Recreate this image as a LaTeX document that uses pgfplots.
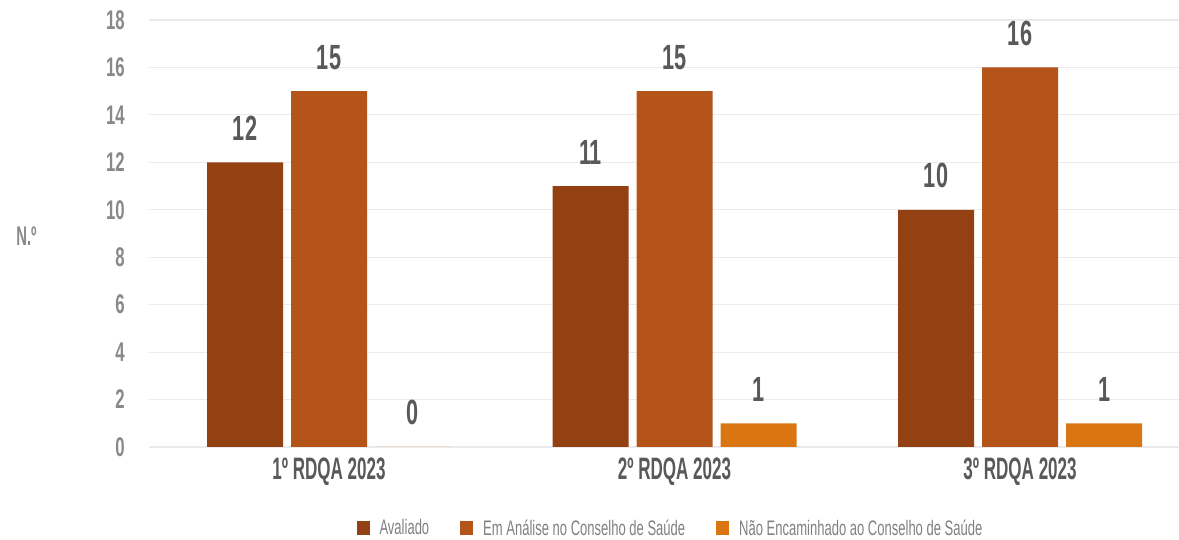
\documentclass[border=0pt]{standalone}
\usepackage{pgfplots}
\pgfplotsset{compat=1.18}
\usepackage{fontspec}
\setmainfont[FakeStretch=0.62]{Liberation Sans}
\newfontfamily\condA[FakeStretch=0.55]{Liberation Sans}
\newfontfamily\condB[FakeStretch=0.62]{Liberation Sans}
\definecolor{c1}{HTML}{934113}
\definecolor{c2}{HTML}{B45418}
\definecolor{c3}{HTML}{D97612}
\definecolor{gridc}{HTML}{EBEBEB}
\definecolor{tickc}{HTML}{898989}
\definecolor{labc}{HTML}{595959}
\definecolor{legc}{HTML}{808080}
\begin{document}
\begin{tikzpicture}
\begin{axis}[
  at={(0,0)}, anchor=south west,
  scale only axis, width=1030pt, height=427pt,
  ymin=0, ymax=18, ytick={0,2,...,18},
  xmin=-0.521, xmax=2.46,
  xtick={0,1,2}, xticklabels={1º RDQA 2023, 2º RDQA 2023, 3º RDQA 2023},
  ybar=8pt, bar width=76pt,
  axis line style={draw=none}, major tick length=0pt,
  ymajorgrids, grid style={draw=gridc, line width=1.2pt},
  /pgf/number format/assume math mode=true,
  yticklabel style={font=\condB\bfseries\fontsize{27}{30}\selectfont, text=tickc, inner sep=0pt, xshift=-24pt},
  xticklabel style={font=\condA\bfseries\fontsize{31}{34}\selectfont, text=labc, inner sep=0pt, yshift=-11pt},
  nodes near coords,
  nodes near coords style={font=\condB\bfseries\fontsize{35}{38}\selectfont, text=labc, inner sep=0pt, anchor=base, yshift=22pt},
  ylabel={N.º},
  ylabel style={at={(axis description cs:-0.119,0.494)}, rotate=-90, anchor=center, font=\condA\bfseries\fontsize{27}{30}\selectfont, text=tickc},
  legend columns=3,
  legend cell align=left,
  legend style={at={(0.5058,-0.190)}, anchor=center, draw=none, fill=none,
    inner sep=0pt, nodes={inner sep=1pt},
    font=\fontsize{21}{22}\selectfont, text=legc,
    /tikz/every odd column/.append style={column sep=9pt},
    /tikz/every even column/.append style={column sep=30pt}},
]
\addplot[fill=c1, draw=none, legend image code/.code={\fill[c1] (0pt,-7pt) rectangle (13pt,7pt);}] coordinates {(0,12) (1,11) (2,10)};
\addplot[fill=c2, draw=none, legend image code/.code={\fill[c2] (0pt,-7pt) rectangle (13pt,7pt);}] coordinates {(0,15) (1,15) (2,16)};
\addplot[fill=c3, draw=none, legend image code/.code={\fill[c3] (0pt,-7pt) rectangle (13pt,7pt);}] coordinates {(0,0) (1,1) (2,1)};
\legend{Avaliado, Em Análise no Conselho de Saúde, Não Encaminhado ao Conselho de Saúde}
\end{axis}
\pgfresetboundingbox
\path (-149pt,-93pt) rectangle (1030pt,447pt);
\end{tikzpicture}
\end{document}
